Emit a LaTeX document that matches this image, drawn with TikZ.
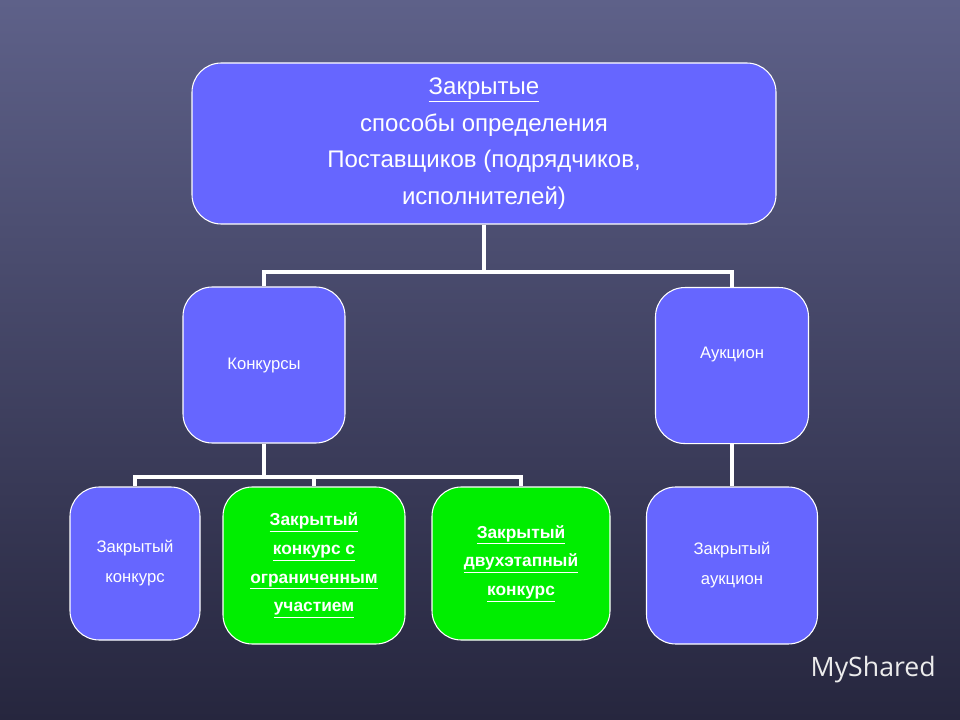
\documentclass[tikz,border=0pt]{standalone}
\usepackage{fontspec}
\setmainfont{Liberation Sans}
\newfontfamily\logofont{Open Sans}
\begin{document}
\begin{tikzpicture}[x=0.75pt,y=-0.75pt,
  box/.style={draw=white,line width=0.8pt,rounded corners=22pt,fill=bluebox,text=white,align=center,inner sep=2pt},
  gbox/.style={box,fill=greenbox,font=\fontsize{13}{21.5}\selectfont\bfseries},
  conn/.style={draw=white,line width=3.6pt}]
\definecolor{bluebox}{HTML}{6666FF}
\definecolor{greenbox}{HTML}{00EE00}
\definecolor{bgtop}{HTML}{5E6189}
\definecolor{bgbot}{HTML}{26263E}
\shade[top color=bgtop,bottom color=bgbot] (0,0) rectangle (960,720);
\useasboundingbox (0,0) rectangle (960,720);
\node[box,minimum width=584*0.75pt,minimum height=161*0.75pt,font=\fontsize{18}{27.5}\selectfont] (top) at (484,143.5)
 {\underline{Закрытые}\\способы определения\\Поставщиков (подрядчиков,\\исполнителей)};
\node[box,minimum width=162*0.75pt,minimum height=156*0.75pt,font=\fontsize{12.5}{15}\selectfont] (konk) at (264,365) {Конкурсы};
\node[box,minimum width=153*0.75pt,minimum height=156*0.75pt,anchor=north,text depth=0pt,text height=0pt] (auk) at (732,287) {};
\node[text=white,font=\fontsize{12.5}{15}\selectfont] (auklabel) at (732,354) {Аукцион};
\node[box,minimum width=130*0.75pt,minimum height=153*0.75pt,font=\fontsize{12.5}{22.5}\selectfont] (zk) at (135,563.5) {Закрытый\\конкурс};
\node[gbox,minimum width=182*0.75pt,minimum height=157*0.75pt] (g1) at (314,565.5)
 {\underline{Закрытый}\\\underline{конкурс с}\\\underline{ограниченным}\\\underline{участием}};
\node[gbox,minimum width=178*0.75pt,minimum height=153*0.75pt] (g2) at (521,563.5)
 {\underline{Закрытый}\\\underline{двухэтапный}\\\underline{конкурс}};
\node[box,minimum width=171*0.75pt,minimum height=157*0.75pt,font=\fontsize{12.5}{22.5}\selectfont] (za) at (732,565.5) {Закрытый\\аукцион};
\coordinate (j1) at (484,272);
\coordinate (j2) at (264,477);
\draw[conn] (top.south) -- (j1);
\draw[conn] (j1) -| (konk.north);
\draw[conn] (j1) -| (auk.north);
\draw[conn] (konk.south) -- (j2);
\draw[conn] (j2) -| (zk.north);
\draw[conn] (j2) -| (g2.north);
\draw[conn] (j2 -| g1.north) -- (g1.north);
\draw[conn] (auk.south) -- (za.north);
\node[text=white!85!gray,font=\logofont\fontsize{20}{20}\selectfont,anchor=west] (logo) at (806,670) {MyShared};
\end{tikzpicture}
\end{document}
